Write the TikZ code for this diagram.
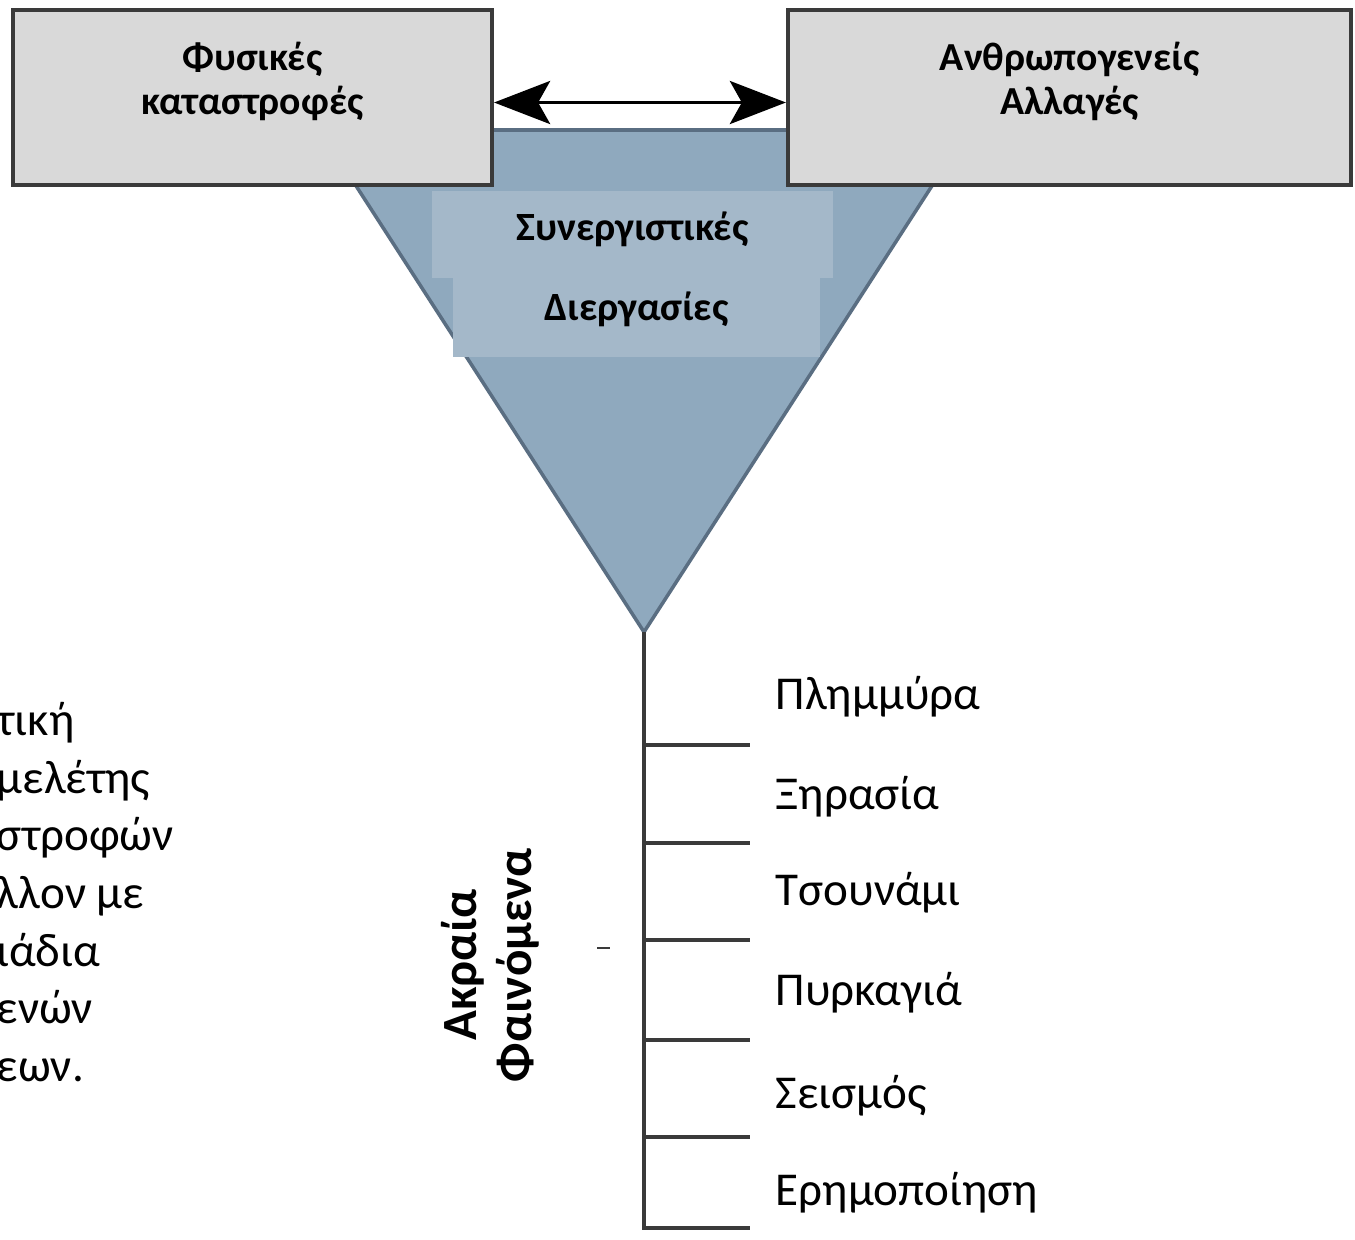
\documentclass[tikz,border=0pt]{standalone}
\usepackage{fontspec}
\setmainfont{Carlito}
\usetikzlibrary{positioning, arrows.meta}
\definecolor{boxgray}{HTML}{D9D9D9}
\definecolor{funnelblue}{HTML}{8FA9BE}
\definecolor{funneledge}{HTML}{5A6E82}
\definecolor{tagblue}{HTML}{A4B8C9}
\definecolor{linegray}{HTML}{3A3A3A}

\begin{document}
\begin{tikzpicture}[
    x=0.01cm, y=-0.01cm,
    cause/.style={rectangle, draw=linegray, line width=1.1pt, fill=boxgray, minimum height=1.75cm, inner sep=0pt},
    causetext/.style={align=center, font=\fontsize{11.3}{12.7}\selectfont\bfseries, inner sep=0pt},
    funnel/.style={fill=funnelblue, draw=funneledge, line width=1pt},
    tag/.style={rectangle, fill=tagblue, inner sep=0pt},
    tagtext/.style={inner sep=0pt, font=\fontsize{11.4}{13}\selectfont\bfseries},
    link/.style={line width=1.1pt, {Stealth[length=0.56cm, width=0.43cm, inset=0.12cm]}-{Stealth[length=0.56cm, width=0.43cm, inset=0.12cm]}},
    stem/.style={draw=linegray, line width=1.1pt},
    hazard/.style={anchor=west, inner sep=0pt, font=\fontsize{13.4}{15}\selectfont},
    note/.style={anchor=west, align=left, inner sep=0pt, font=\fontsize{13.4}{16.4}\selectfont}
]
\useasboundingbox[fill=white] (0,0) rectangle (1355,1239);

\coordinate (apex) at (644,632);
\coordinate (base) at (644,1228);
\draw[funnel] (320,130) -- (968,130) -- (apex) -- cycle;

\node[cause, minimum width=4.79cm] (fis) at (252.5,97.5) {};
    \node[cause, minimum width=5.63cm] (anth) at (1069.5,97.5) {};
\node[causetext, below=0.33cm of fis.north] {Φυσικές\\καταστροφές};
    \node[causetext, below=0.33cm of anth.north] {Ανθρωπογενείς\\Αλλαγές};

\draw[link] ([yshift=-0.05cm]fis.east) -- ([yshift=-0.05cm]anth.west);

\node[tag, minimum width=4.01cm, minimum height=0.87cm,
    label={[tagtext, yshift=0.05cm]center:Συνεργιστικές}] (syn) at (632.5,234.5) {};
    \node[tag, minimum width=3.67cm, minimum height=0.79cm,
    label={[tagtext, yshift=0.08cm]center:Διεργασίες}] (dier) at (636.5,317.5) {};

\draw[stem] (apex) -- (base) -- ++(106,0);
\foreach \yy [count=\i] in {745,843,940,1040,1137}
    \draw[stem] (644,\yy) coordinate (t\i) -- ++(106,0);

\foreach \yy/\txt [count=\i] in {697/Πλημμύρα, 797/Ξηρασία, 893/Τσουνάμι, 993/Πυρκαγιά, 1096/Σεισμός, 1193/Ερημοποίηση}
    \node[hazard] (h\i) at (775,\yy) {\txt};

\node[rotate=90, align=center, inner sep=0pt, font=\fontsize{14}{15.6}\selectfont\bfseries] (akr) at (490,965) {Ακραία\\Φαινόμενα};

\coordinate (m1) at (597,948);
    \coordinate (m2) at (610,948);
\draw[stem, line width=0.8pt] (m1) -- (m2);

\node[note] (frag) at (-4,892) {τική\\μελέτης\\στροφών\\λλον με\\ιάδια\\ενών\\εων.};
\end{tikzpicture}
\end{document}
